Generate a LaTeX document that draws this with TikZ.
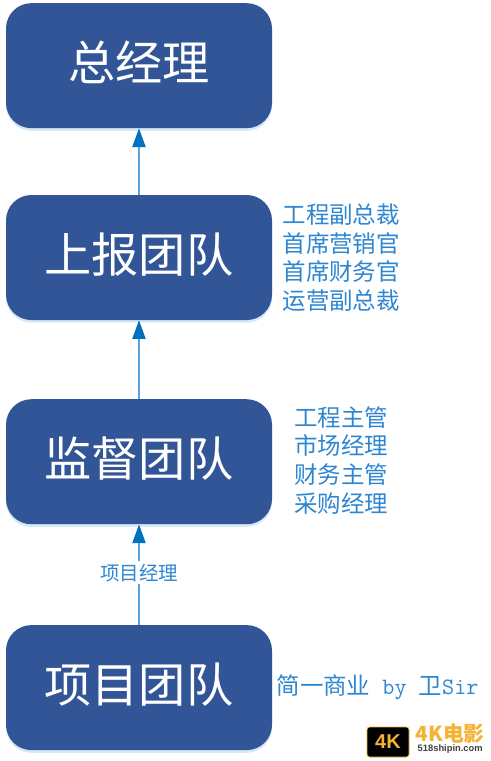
\documentclass[tikz,border=0pt]{standalone}
\usepackage{fontspec}
\setmainfont{Noto Sans CJK SC}
\newfontfamily\wmfont{Liberation Sans}
\usetikzlibrary{positioning,arrows.meta,shadows}
\definecolor{boxblue}{HTML}{325598}
\definecolor{textblue}{HTML}{2E86D0}
\definecolor{linkblue}{HTML}{5BA3DC}
\definecolor{tipblue}{HTML}{0070C0}
\definecolor{wmorange}{HTML}{F5B335}

\begin{document}
\begin{tikzpicture}[
  teambox/.style={fill=boxblue, text=white, rounded corners=19pt, minimum width=199.5pt, minimum height=93.75pt, inner sep=0pt, text depth=8pt, font=\fontsize{35.4pt}{40pt}\selectfont, drop shadow={shadow xshift=0pt, shadow yshift=-2pt, fill=linkblue, opacity=.25}},
  rolelist/.style={text=textblue, text width=90pt, inner sep=0pt, align=center, font=\fontsize{17.6pt}{21.6pt}\selectfont},
  link/.style={draw=linkblue, line width=.8pt, -{Triangle[length=14pt, width=10pt, color=tipblue]}}
]
  \useasboundingbox (0,0) rectangle (368.25pt,-570.75pt);
  \node[teambox] (gm) at (104.25pt,-49.25pt) {总经理};
  \node[teambox, below=49.75pt of gm] (report) {上报团队};
  \node[teambox, below=59pt of report] (monitor) {监督团队};
  \node[teambox, below=75.25pt of monitor] (project) {项目团队};

  \draw[link] (report) -- (gm);
  \draw[link] (monitor) -- (report);
  \draw[link] (project) -- node[pos=.52, fill=white, text=textblue, inner xsep=0pt, inner ysep=2pt, font=\fontsize{14.6pt}{16pt}\selectfont] (pmlabel) {项目经理} (monitor);

  \node[rolelist, right=6.5pt of report] (reportroles) {工程副总裁\\首席营销官\\首席财务官\\运营副总裁};
  \node[rolelist, right=6.5pt of monitor, yshift=1pt] (monitorroles) {工程主管\\市场经理\\财务主管\\采购经理};
  \node[right=3pt of project, text=textblue, inner sep=0pt, font=\fontsize{17.6pt}{20pt}\selectfont] (credit) {简一商业{\ttfamily\fontsize{17.6pt}{20pt}\selectfont\ by\ }卫{\ttfamily\fontsize{17.6pt}{20pt}\selectfont Sir}};

  % site mark, bottom right
  \node[fill=black, draw=wmorange, line width=.6pt, rounded corners=2pt, text=wmorange, minimum width=31.5pt, minimum height=22.5pt, inner sep=0pt, font=\wmfont\bfseries\fontsize{15pt}{15pt}\selectfont] (logo) at (291pt,-556.5pt) {4K};
  \node[right=4.5pt of logo.north east, anchor=north west, yshift=2pt, inner sep=0pt, text=wmorange, font=\bfseries\fontsize{15.6pt}{16pt}\selectfont] (sitename) {4K电影};
  \node[below=0pt of sitename, inner sep=0pt, text=black!75, font=\wmfont\bfseries\fontsize{7pt}{8pt}\selectfont] (siteurl) {518shipin.com};
\end{tikzpicture}
\end{document}
